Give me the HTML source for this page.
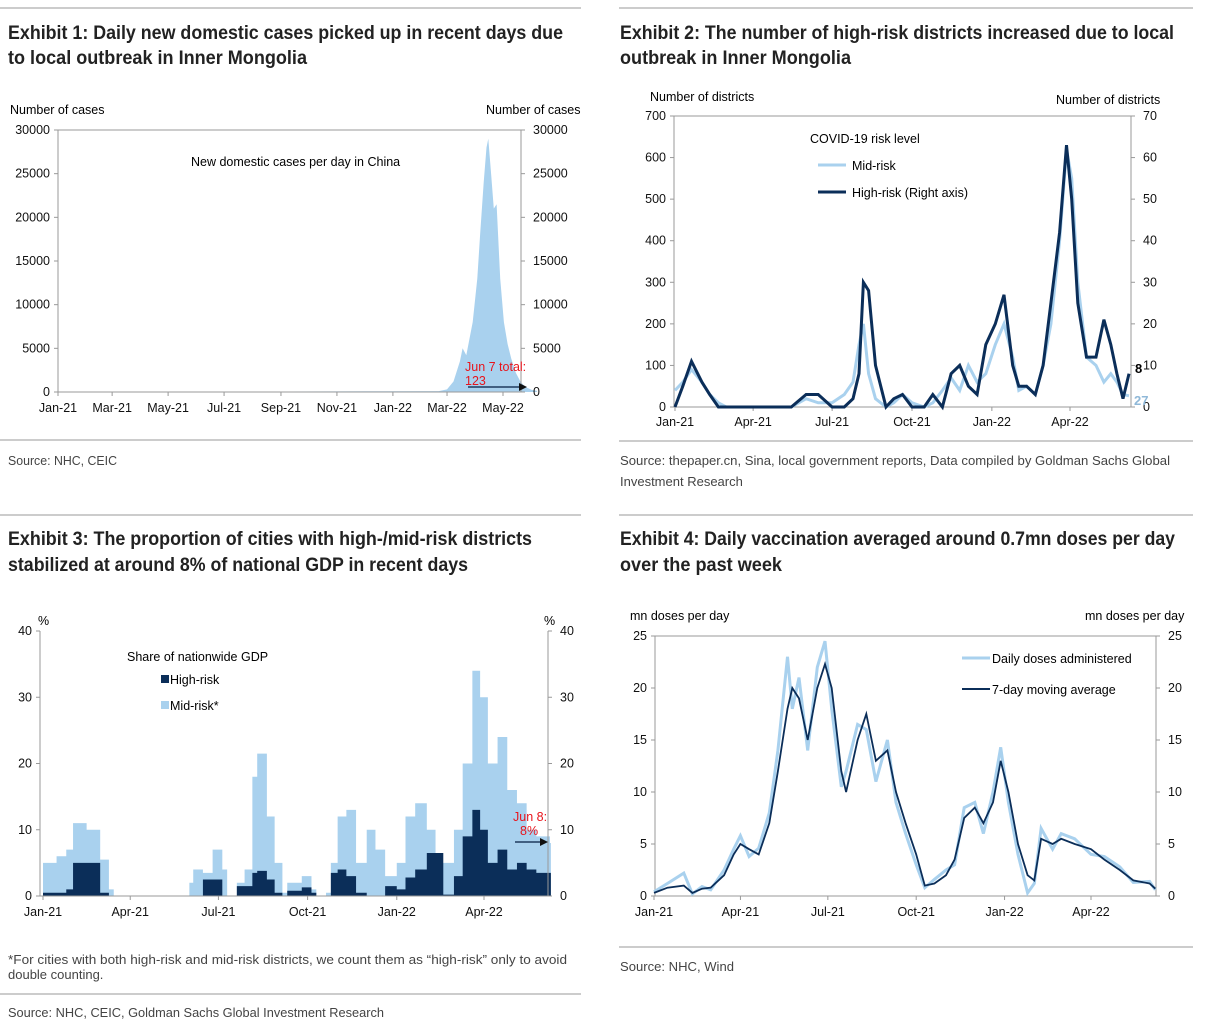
<!DOCTYPE html>
<html><head><meta charset="utf-8">
<style>
body{margin:0;background:#fff;}
svg{display:block;font-family:"Liberation Sans",sans-serif;}
.t{font-family:"Liberation Sans Narrow","Liberation Sans",sans-serif;font-weight:bold;font-size:19px;fill:#222;}
.s{font-size:13px;fill:#444;font-family:"Liberation Sans Narrow","Liberation Sans",sans-serif;}
.ax{font-size:12.5px;fill:#111;}
</style></head><body>
<svg id="root" width="1209" height="1030" viewBox="0 0 1209 1030">
<g>
<line x1="0" y1="8" x2="581" y2="8" stroke="#999"/>
<text class="t" x="8" y="39" textLength="555" lengthAdjust="spacingAndGlyphs">Exhibit 1: Daily new domestic cases picked up in recent days due</text>
<text class="t" x="8" y="64" textLength="299" lengthAdjust="spacingAndGlyphs">to local outbreak in Inner Mongolia</text>
<line x1="0" y1="440" x2="581" y2="440" stroke="#999"/>
<text class="s" x="8" y="465" textLength="109" lengthAdjust="spacingAndGlyphs">Source: NHC, CEIC</text>
</g>
<g>
<line x1="619" y1="8" x2="1193" y2="8" stroke="#999"/>
<text class="t" x="620" y="39" textLength="554" lengthAdjust="spacingAndGlyphs">Exhibit 2: The number of high-risk districts increased due to local</text>
<text class="t" x="620" y="64" textLength="231" lengthAdjust="spacingAndGlyphs">outbreak in Inner Mongolia</text>
<line x1="619" y1="441" x2="1193" y2="441" stroke="#999"/>
<text class="s" x="620" y="465" textLength="550" lengthAdjust="spacingAndGlyphs">Source: thepaper.cn, Sina, local government reports, Data compiled by Goldman Sachs Global</text>
<text class="s" x="620" y="486">Investment Research</text>
</g>
<g>
<line x1="0" y1="515" x2="581" y2="515" stroke="#999"/>
<text class="t" x="8" y="545" textLength="524" lengthAdjust="spacingAndGlyphs">Exhibit 3: The proportion of cities with high-/mid-risk districts</text>
<text class="t" x="8" y="571" textLength="460" lengthAdjust="spacingAndGlyphs">stabilized at around 8% of national GDP in recent days</text>
<text class="s" x="8" y="964" textLength="559" lengthAdjust="spacingAndGlyphs">*For cities with both high-risk and mid-risk districts, we count them as “high-risk” only to avoid</text>
<text class="s" x="8" y="979">double counting.</text>
<line x1="0" y1="994" x2="581" y2="994" stroke="#999"/>
<text class="s" x="8" y="1017" textLength="376" lengthAdjust="spacingAndGlyphs">Source: NHC, CEIC, Goldman Sachs Global Investment Research</text>
</g>
<g>
<line x1="619" y1="515" x2="1193" y2="515" stroke="#999"/>
<text class="t" x="620" y="545" textLength="555" lengthAdjust="spacingAndGlyphs">Exhibit 4: Daily vaccination averaged around 0.7mn doses per day</text>
<text class="t" x="620" y="571" textLength="162" lengthAdjust="spacingAndGlyphs">over the past week</text>
<line x1="619" y1="947" x2="1193" y2="947" stroke="#999"/>
<text class="s" x="620" y="971" textLength="114" lengthAdjust="spacingAndGlyphs">Source: NHC, Wind</text>
</g>
<g id="c1"></g>
<g id="c2"></g>
<g id="c3"></g>
<g id="c4"></g>
</svg>
<script>
// ---------- Exhibit 1 data ----------
const casesDates = ["2021-01-01","2021-06-01","2021-12-01","2022-02-20","2022-03-01","2022-03-08","2022-03-15","2022-03-18","2022-03-22","2022-03-29","2022-04-03","2022-04-06","2022-04-10","2022-04-13","2022-04-15","2022-04-18","2022-04-21","2022-04-24","2022-04-28","2022-05-02","2022-05-06","2022-05-10","2022-05-15","2022-05-20","2022-05-25","2022-06-01","2022-06-07"];
const casesValues = [50,20,80,100,300,1200,3500,5000,4200,8000,13000,18000,24000,28000,29000,25000,21000,21500,13000,8000,5500,3800,2200,1200,600,250,123];
const casesTicks = [0,5000,10000,15000,20000,25000,30000];
const monthTicks1 = ["Jan-21","Mar-21","May-21","Jul-21","Sep-21","Nov-21","Jan-22","Mar-22","May-22"];
const monthTickDates1 = ["2021-01-01","2021-03-01","2021-05-01","2021-07-01","2021-09-01","2021-11-01","2022-01-01","2022-03-01","2022-05-01"];

// ---------- Exhibit 2 data ----------
const riskDates = ["2021-01-01","2021-01-10","2021-01-20","2021-02-01","2021-02-10","2021-02-20","2021-03-01","2021-03-15","2021-04-01","2021-04-15","2021-05-01","2021-05-15","2021-06-01","2021-06-15","2021-07-01","2021-07-15","2021-07-25","2021-08-01","2021-08-06","2021-08-12","2021-08-20","2021-09-01","2021-09-10","2021-09-20","2021-10-01","2021-10-15","2021-10-25","2021-11-05","2021-11-15","2021-11-25","2021-12-05","2021-12-15","2021-12-25","2022-01-05","2022-01-15","2022-01-25","2022-02-01","2022-02-10","2022-02-20","2022-03-01","2022-03-10","2022-03-20","2022-03-28","2022-04-03","2022-04-10","2022-04-20","2022-05-01","2022-05-10","2022-05-18","2022-05-25","2022-06-01","2022-06-08"];
const midRisk = [40,60,90,60,30,10,0,0,0,0,0,0,20,10,10,30,60,150,200,80,20,0,10,30,10,0,10,40,70,40,100,60,80,150,200,120,40,50,30,100,200,400,620,550,300,120,100,60,80,60,30,27];
const highRisk = [0,5,11,6,3,0,0,0,0,0,0,0,3,3,0,0,2,8,30,28,10,0,2,3,0,0,3,0,8,10,5,3,15,20,27,10,5,5,3,10,25,42,63,50,25,12,12,21,15,8,2,8];
const leftTicks2 = [0,100,200,300,400,500,600,700];
const rightTicks2 = [0,10,20,30,40,50,60,70];
const qTicks = ["Jan-21","Apr-21","Jul-21","Oct-21","Jan-22","Apr-22"];
const qTickDates = ["2021-01-01","2021-04-01","2021-07-01","2021-10-01","2022-01-01","2022-04-01"];

// ---------- Exhibit 3 data ----------
const gdpDates = ["2021-01-01","2021-01-15","2021-01-25","2021-02-01","2021-02-15","2021-03-01","2021-03-10","2021-03-15","2021-06-01","2021-06-05","2021-06-15","2021-06-25","2021-07-05","2021-07-10","2021-07-20","2021-07-28","2021-08-05","2021-08-10","2021-08-20","2021-08-28","2021-09-05","2021-09-10","2021-09-25","2021-10-05","2021-10-10","2021-10-20","2021-10-25","2021-11-01","2021-11-10","2021-11-20","2021-12-01","2021-12-10","2021-12-20","2022-01-01","2022-01-10","2022-01-20","2022-02-01","2022-02-10","2022-02-18","2022-03-01","2022-03-10","2022-03-20","2022-03-28","2022-04-05","2022-04-15","2022-04-25","2022-05-05","2022-05-15","2022-05-25","2022-06-08"];
const totalShare = [5,6,7,11,10,5.5,1,0,2,4,3.5,7,4,0,2,4,18,21.5,12,5,0.5,2,3,1,0,0.5,5,12,13,5,10,7,3,5,12,14,10,5,5,10,20,34,30,20,24,16,14,10,9,8];
const highShare = [0.5,0.5,1,5,5,0.5,0,0,0,0,2.5,2.5,0,0,1.5,1.5,3.5,3.8,2.5,0.5,0,0.8,1.3,0.5,0,0,3.5,4,3,0.5,0,0,1.5,1,2.8,4,6.5,6.5,0.2,3,9,13,10,5,7,4,5,4,3.5,3.5];
const pctTicks = [0,10,20,30,40];

// ---------- Exhibit 4 data ----------
const doseDates = ["2021-01-01","2021-01-15","2021-02-01","2021-02-10","2021-02-20","2021-03-01","2021-03-15","2021-03-25","2021-04-01","2021-04-10","2021-04-20","2021-05-01","2021-05-10","2021-05-20","2021-05-25","2021-06-01","2021-06-10","2021-06-20","2021-06-28","2021-07-05","2021-07-15","2021-07-20","2021-08-01","2021-08-10","2021-08-20","2021-09-01","2021-09-10","2021-09-20","2021-10-01","2021-10-10","2021-10-20","2021-11-01","2021-11-10","2021-11-20","2021-12-01","2021-12-10","2021-12-20","2021-12-28","2022-01-05","2022-01-15","2022-01-25","2022-02-01","2022-02-08","2022-02-20","2022-03-01","2022-03-15","2022-04-01","2022-04-15","2022-05-01","2022-05-15","2022-06-01","2022-06-07"];
const dosesAvg = [0.3,0.8,1,0.3,0.7,0.8,2,4,5,4.5,4,7,12,18,20,19,15,20,22.3,20,12,10,15,17.5,13,14,10,7,4,1,1.2,2,3.5,7.5,8.5,7,9,13,10,5,2,1.5,5.5,5,5.5,5,4.5,3.5,2.5,1.5,1.2,0.7];
const dosesDaily = [0.4,1.2,2.2,0.2,0.9,0.6,2.5,4.5,5.8,3.8,4.6,8,14,23,18,21,14,22,24.5,18,10.5,12,16.5,16,11,15,9,6,3,0.8,1.6,2.5,3,8.5,9,6,10,14.3,9,4,0.3,1.2,6.5,4.5,6,5.5,4,3.8,2.8,1.3,1.4,0.6];
const doseTicks = [0,5,10,15,20,25];

const NS = "http://www.w3.org/2000/svg";
const T0 = Date.UTC(2021,0,1);
function day(s){const p=s.split("-");return (Date.UTC(+p[0],+p[1]-1,+p[2])-T0)/86400000;}
function mk(parent,tag,attrs,txt){const e=document.createElementNS(NS,tag);for(const k in attrs)e.setAttribute(k,attrs[k]);if(txt!==undefined)e.textContent=txt;parent.appendChild(e);return e;}
function scale(d0,d1,r0,r1){return v=>r0+(v-d0)/(d1-d0)*(r1-r0);}

function frame(g,L,R,Tp,B,leftTicks,yl,rightTicks,yr,xTickLabels,xTickDates,xs,labelY){
  const r=mk(g,"rect",{x:L,y:Tp,width:R-L,height:B-Tp,fill:"none",stroke:"#999"});
  
  
  leftTicks.forEach(v=>{const y=yl(v);
    mk(g,"line",{x1:L-4,y1:y,x2:L,y2:y,stroke:"#999"});
    const t=mk(g,"text",{x:L-8,y:y+4,"text-anchor":"end",class:"ax"},String(v));
    
    });
  rightTicks.forEach(v=>{const y=yr(v);
    mk(g,"line",{x1:R,y1:y,x2:R+4,y2:y,stroke:"#999"});
    const t=mk(g,"text",{x:R+12,y:y+4,"text-anchor":"start",class:"ax"},String(v));
    
    });
  xTickLabels.forEach((lab,i)=>{const x=xs(day(xTickDates[i]));
    mk(g,"line",{x1:x,y1:B,x2:x,y2:B+4,stroke:"#999"});
    const t=mk(g,"text",{x:x,y:labelY,"text-anchor":"middle",class:"ax"},lab);
    
    });
}
function label(g,x,y,txt,name,extra){const t=mk(g,"text",Object.assign({x:x,y:y,"font-size":"12.5"},extra||{}),txt);
  
  return t;}
function arrow(g,x1,x2,y,name){const a=mk(g,"g",{});
  
  
  mk(a,"line",{x1:x1,y1:y,x2:x2-6,y2:y,stroke:"#1f3a5f","stroke-width":1.5});
  mk(a,"polygon",{points:`${x2},${y} ${x2-8},${y-4} ${x2-8},${y+4}`,fill:"#111"});}
function linePath(dates,vals,xs,ys){return dates.map((d,i)=>(i?"L":"M")+xs(day(d)).toFixed(1)+","+ys(vals[i]).toFixed(1)).join(" ");}
function stepArea(dates,vals,xs,ys,endDay){let p="M"+xs(day(dates[0]))+","+ys(0);
  dates.forEach((d,i)=>{const x0=xs(day(d)),x1=xs(i<dates.length-1?day(dates[i+1]):endDay);p+=` L${x0},${ys(vals[i])} L${x1},${ys(vals[i])}`;});
  return p+` L${xs(endDay)},${ys(0)} Z`;}

// ---------- Chart 1 ----------
(function(){const g=document.getElementById("c1");
  const L=58,R=521,Tp=130,B=392;
  const xs=scale(0,day("2022-05-01"),58,503);const ys=scale(0,30000,B,Tp);
  const a=mk(g,"path",{d:linePath(casesDates,casesValues,xs,ys)+` L${xs(day(casesDates[casesDates.length-1]))},${B} L${xs(0)},${B} Z`,fill:"#a9d1ee"});
  
  
  frame(g,L,R,Tp,B,casesTicks,ys,casesTicks,ys,monthTicks1,monthTickDates1,xs,412);
  label(g,10,114,"Number of cases","left-axis-title");
  label(g,486,114,"Number of cases","right-axis-title");
  label(g,191,166,"New domestic cases per day in China","chart-annotation");
  label(g,465,371,"Jun 7 total:","latest-value-annotation",{fill:"#e8141c"});
  label(g,465,385,"123","latest-value-number",{fill:"#e8141c"});
  arrow(g,468,527,387,"latest-value-arrow");
})();

// ---------- Chart 2 ----------
(function(){const g=document.getElementById("c2");
  const L=674,R=1131,Tp=116,B=407;
  const xs=scale(0,day("2022-04-01"),675,1070);const yl=scale(0,700,B,Tp);const yr=scale(0,70,B,Tp);
  frame(g,L,R,Tp,B,leftTicks2,yl,rightTicks2,yr,qTicks,qTickDates,xs,426);
  const m=mk(g,"path",{d:linePath(riskDates,midRisk,xs,yl),fill:"none",stroke:"#a9d1ee","stroke-width":3});
  
  
  const h=mk(g,"path",{d:linePath(riskDates,highRisk,xs,yr),fill:"none",stroke:"#0b2e59","stroke-width":3});
  
  
  label(g,650,101,"Number of districts","left-axis-title");
  label(g,1056,104,"Number of districts","right-axis-title");
  label(g,810,143,"COVID-19 risk level","legend-title");
  mk(g,"line",{x1:818,y1:165,x2:846,y2:165,stroke:"#a9d1ee","stroke-width":3});
  label(g,852,170,"Mid-risk","legend-entry-mid-risk");
  mk(g,"line",{x1:818,y1:192,x2:846,y2:192,stroke:"#0b2e59","stroke-width":3});
  label(g,852,197,"High-risk (Right axis)","legend-entry-high-risk");
  label(g,1135,373,"8","high-risk-latest-label",{"font-weight":"bold","font-size":"13"});
  label(g,1134,405,"27","mid-risk-latest-label",{"font-weight":"bold","font-size":"13",fill:"#8fb8d8"});
})();

// ---------- Chart 3 ----------
(function(){const g=document.getElementById("c3");
  const L=40,R=548,Tp=631,B=896;
  const xs=scale(0,day("2022-04-01"),43,484);const ys=scale(0,40,B,Tp);
  const endDay=day("2022-06-09");
  const a=mk(g,"path",{d:stepArea(gdpDates,totalShare,xs,ys,endDay),fill:"#a9d1ee"});
  
  
  const b=mk(g,"path",{d:stepArea(gdpDates,highShare,xs,ys,endDay),fill:"#0b2e59"});
  
  
  mk(g,"line",{x1:L,y1:Tp,x2:L,y2:B,stroke:"#999"});
  mk(g,"line",{x1:R,y1:Tp,x2:R,y2:B,stroke:"#999"});
  mk(g,"line",{x1:L,y1:B,x2:R,y2:B,stroke:"#999"});
  frame(g,L,R,Tp,B,pctTicks,ys,pctTicks,ys,qTicks,qTickDates,xs,916);
  g.querySelector("rect").setAttribute("stroke","none");
  label(g,38,625,"%","left-axis-unit");
  label(g,544,625,"%","right-axis-unit");
  label(g,127,661,"Share of nationwide GDP","legend-title");
  mk(g,"rect",{x:161,y:675,width:8,height:8,fill:"#0b2e59"});
  label(g,170,684,"High-risk","legend-entry-high-risk");
  mk(g,"rect",{x:161,y:701,width:8,height:8,fill:"#a9d1ee"});
  label(g,170,710,"Mid-risk*","legend-entry-mid-risk");
  label(g,513,821,"Jun 8:","latest-value-annotation",{fill:"#e8141c"});
  label(g,520,835,"8%","latest-value-number",{fill:"#e8141c"});
  arrow(g,515,548,842,"latest-value-arrow");
})();

// ---------- Chart 4 ----------
(function(){const g=document.getElementById("c4");
  const L=655,R=1156,Tp=636,B=896;
  const xs=scale(0,day("2022-04-01"),654,1091);const ys=scale(0,25,B,Tp);
  frame(g,L,R,Tp,B,doseTicks,ys,doseTicks,ys,qTicks,qTickDates,xs,916);
  const d=mk(g,"path",{d:linePath(doseDates,dosesDaily,xs,ys),fill:"none",stroke:"#a9d1ee","stroke-width":3});
  
  
  const m=mk(g,"path",{d:linePath(doseDates,dosesAvg,xs,ys),fill:"none",stroke:"#0b2e59","stroke-width":1.8});
  
  
  label(g,630,620,"mn doses per day","left-axis-title");
  label(g,1085,620,"mn doses per day","right-axis-title");
  mk(g,"line",{x1:962,y1:658,x2:990,y2:658,stroke:"#a9d1ee","stroke-width":3});
  label(g,992,663,"Daily doses administered","legend-entry-daily");
  mk(g,"line",{x1:962,y1:689,x2:990,y2:689,stroke:"#0b2e59","stroke-width":2});
  label(g,992,694,"7-day moving average","legend-entry-average");
})();
</script>
</body></html>
